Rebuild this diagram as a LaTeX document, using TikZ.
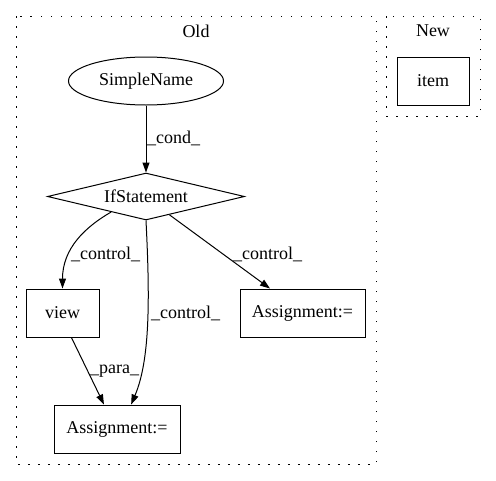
\documentclass[tikz,border=0pt]{standalone}
\usepackage{fontspec}
\setmainfont{Liberation Serif}
\usetikzlibrary{shapes.geometric,arrows.meta}

\begin{document}
\begin{tikzpicture}[x=1pt,y=1pt,
    every node/.style={font=\fontsize{18}{20}\selectfont},
    box/.style={draw,line width=1pt,minimum height=48pt,inner sep=0pt},
    cluster/.style={line width=1pt,dash pattern=on 1.5pt off 8.5pt},
    arr/.style={-{Triangle[length=10pt,width=7pt]},line width=1pt},
    lbl/.style={anchor=west,inner sep=0pt}]
  \useasboundingbox (0,0) rectangle (496,-480);
  \draw[cluster] (16,-16) rectangle (376,-464);
  \draw[cluster] (386,-16) rectangle (480,-116);
  \node (old) at (196,-31) {Old};
  \node (new) at (433,-31) {New};

  \node[box,minimum width=72pt] (item) at (433,-81) {item};
  \node[draw,ellipse,line width=1pt,minimum width=155pt,minimum height=48pt,inner sep=0pt] (sn) at (146,-81) {SimpleName};
  \node[draw,diamond,line width=1pt,aspect=4,minimum width=197pt,minimum height=47pt,inner sep=0pt] (ifst) at (146,-196.5) {IfStatement};
  \node[box,minimum width=73pt] (view) at (62.5,-313) {view};
  \node[box,minimum width=125pt] (asgR) at (302.5,-313) {Assignment:=};
  \node[box,minimum width=126pt] (asgB) at (117,-429) {Assignment:=};

  \draw[arr] (sn) -- (ifst);
  \draw[arr] (ifst.204) .. controls +(-150:30) and +(0,40) .. (view.north);
  \draw[arr] (ifst.south) .. controls (150,-300) and (150,-360) .. (asgB.60);
  \draw[arr] (ifst.-38) -- (asgR.143);
  \draw[arr] (view.-70) -- (asgB.118);

  \node[lbl] (cond) at (147,-138) {\_cond\_};
  \node[lbl] (ctlview) at (71,-254) {\_control\_};
  \node[lbl] (ctlasgb) at (151,-313) {\_control\_};
  \node[lbl] (ctlasgr) at (233,-254) {\_control\_};
  \node[lbl] (para) at (90,-371) {\_para\_};
\end{tikzpicture}
\end{document}
